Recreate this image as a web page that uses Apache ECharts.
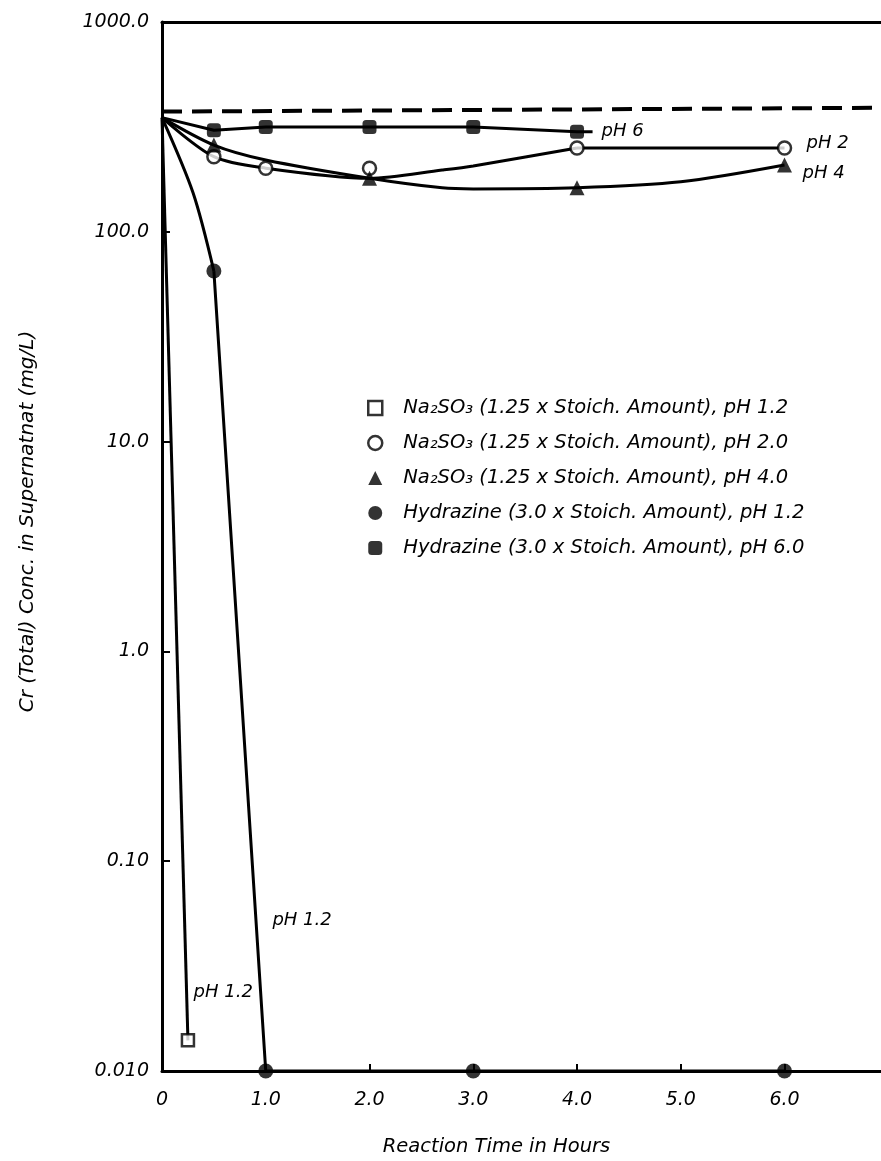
<!DOCTYPE html>
<html>
<head>
<meta charset="utf-8">
<script src="https://cdn.jsdelivr.net/npm/echarts@6/dist/echarts.min.js"></script>
<style>
  html, body { margin: 0; padding: 0; background: #fff; }
  #chart { width: 881px; height: 1161px; }
</style>
</head>
<body>
<div id="chart"></div>
<script>
// Axis tick labels
const xTickValues = [0, 1, 2, 3, 4, 5, 6];
const xTickLabels = ['0', '1.0', '2.0', '3.0', '4.0', '5.0', '6.0'];
const yTickLabels = ['0.010', '0.10', '1.0', '10.0', '100.0', '1000.0']; // 10^-2 .. 10^3

// Legend entries
const seriesNames = [
  'Na₂SO₃ (1.25 x Stoich. Amount), pH 1.2',
  'Na₂SO₃ (1.25 x Stoich. Amount), pH 2.0',
  'Na₂SO₃ (1.25 x Stoich. Amount), pH 4.0',
  'Hydrazine (3.0 x Stoich. Amount), pH 1.2',
  'Hydrazine (3.0 x Stoich. Amount), pH 6.0'
];

// Measured points [hours, mg/L]
const sulfitePh12 = [[0.25, 0.014]];
const sulfitePh20 = [[0.5, 228], [1, 201], [2, 201], [4, 251], [6, 251]];
const sulfitePh40 = [[0.5, 259], [2, 180], [4, 162], [6, 208]];
const hydrazinePh12 = [[0.5, 65], [1, 0.01], [3, 0.01], [6, 0.01]];
const hydrazinePh60 = [[0.5, 305], [1, 316], [2, 316], [3, 316], [4, 300]];

// Drawn trend curves [hours, mg/L]; "Bend" parts are smoothed, "Run" parts are straight
const curveSulfitePh12 = [[0, 350], [0.25, 0.014]];
const curveSulfitePh20Bend = [[0, 350], [0.5, 228], [1, 201], [2, 180], [2.7, 197], [3, 206], [4, 251]];
const curveSulfitePh20Run = [[4, 251], [6, 251]];
const curveSulfitePh40Bend = [[0, 350], [0.5, 259], [1, 220], [2, 180], [2.7, 162], [3, 160], [4, 162], [5, 173], [6, 208]];
const curveHydrazinePh12Bend = [[0, 350], [0.3, 153], [0.5, 65]];
const curveHydrazinePh12Run = [[0.5, 65], [1, 0.01], [6, 0.01]];
const curveHydrazinePh60 = [[0, 350], [0.5, 305], [1, 316], [3, 316], [4, 300], [4.15, 300]];

// Dashed reference level
const initialLevel = [[0, 374], [6.93, 390]];

// Free-standing curve notes, anchored in data coordinates
const curveNotes = [
  { text: 'pH 1.2', at: [1.35, 0.052] },
  { text: 'pH 1.2', at: [0.59, 0.0238] }
];

// Time axis runs off the right edge of the page, just short of 7 h
const X_MAX = 6.93;

const FONT = 'DejaVu Sans';
const INK = '#000';
const textBase = { fontFamily: FONT, fontStyle: 'italic', color: INK };

function curve(data, extra) {
  return Object.assign({
    type: 'line',
    data: data,
    symbol: 'none',
    lineStyle: { color: INK, width: 3 },
    silent: true,
    z: 2,
    clip: false
  }, extra || {});
}

function points(name, data, symbol, size, hollow) {
  return {
    type: 'scatter',
    name: name,
    data: data,
    symbol: symbol,
    symbolSize: size,
    itemStyle: hollow
      ? { color: '#fff', borderColor: INK, borderWidth: 2.5 }
      : { color: INK },
    z: 5,
    clip: false,
    silent: true
  };
}

function endNote(text, offset) {
  return Object.assign({ show: true, formatter: text, fontSize: 18, offset: offset }, textBase);
}

const chart = echarts.init(document.getElementById('chart'), null, { renderer: 'canvas' });

chart.setOption({
  animation: false,
  backgroundColor: '#fff',
  grid: {
    left: 162, top: 22, right: 0, bottom: 90,
    outerBoundsMode: 'none'
  },
  xAxis: [
    {
      type: 'value', min: 0, max: X_MAX,
      axisLine: { lineStyle: { color: INK, width: 3 } },
      axisTick: { inside: true, length: 7, customValues: xTickValues, lineStyle: { color: INK, width: 2 } },
      splitLine: { show: false },
      axisLabel: Object.assign({
        margin: 20, fontSize: 19,
        customValues: xTickValues,
        formatter: v => xTickLabels[xTickValues.indexOf(v)] || ''
      }, textBase),
      name: 'Reaction Time in Hours',
      nameLocation: 'middle', nameGap: 66,
      nameTextStyle: Object.assign({ fontSize: 19.5, padding: [0, 50, 0, 0] }, textBase)
    },
    {
      // top frame line
      type: 'value', position: 'top', min: 0, max: X_MAX,
      axisLine: { lineStyle: { color: INK, width: 3 } },
      axisTick: { show: false },
      axisLabel: { show: false },
      splitLine: { show: false }
    }
  ],
  yAxis: {
    type: 'log', logBase: 10, min: 0.01, max: 1000, splitNumber: 5,
    axisLine: { lineStyle: { color: INK, width: 3 } },
    axisTick: { inside: true, length: 8, lineStyle: { color: INK, width: 2 } },
    splitLine: { show: false },
    axisLabel: Object.assign({
      margin: 13, fontSize: 19,
      formatter: v => yTickLabels[Math.round(Math.log10(v)) + 2] || ''
    }, textBase),
    name: 'Cr (Total) Conc. in Supernatnat (mg/L)',
    nameLocation: 'middle', nameGap: 124,
    nameTextStyle: Object.assign({ fontSize: 20, padding: [0, 0, 0, 50] }, textBase)
  },
  legend: {
    orient: 'vertical',
    left: 362, top: 392,
    itemWidth: 14, itemHeight: 14, itemGap: 13,
    selectedMode: false,
    textStyle: Object.assign({ fontSize: 19.5, lineHeight: 22, padding: [0, 0, 0, 16] }, textBase),
    data: [
      { name: seriesNames[0], icon: 'rect', itemStyle: { color: '#fff', borderColor: INK, borderWidth: 2.5 } },
      { name: seriesNames[1], icon: 'circle', itemStyle: { color: '#fff', borderColor: INK, borderWidth: 2.5 } },
      { name: seriesNames[2], icon: 'triangle', itemStyle: { color: INK } },
      { name: seriesNames[3], icon: 'circle', itemStyle: { color: INK } },
      { name: seriesNames[4], icon: 'roundRect', itemStyle: { color: INK } }
    ]
  },
  series: [
    // dashed reference level
    curve(initialLevel, { lineStyle: { color: INK, width: 4, type: [20, 10] } }),

    // trend curves
    curve(curveSulfitePh12),
    curve(curveSulfitePh20Bend, { smooth: 0.3 }),
    curve(curveSulfitePh20Run, { endLabel: endNote('pH 2', [14, -5]) }),
    curve(curveSulfitePh40Bend, { smooth: 0.3, endLabel: endNote('pH 4', [10, 8]) }),
    curve(curveHydrazinePh12Bend, { smooth: 0.3 }),
    curve(curveHydrazinePh12Run, {
      markPoint: {
        symbol: 'circle', symbolSize: 0, silent: true,
        label: Object.assign({ show: true, position: 'inside', fontSize: 18, formatter: p => p.name }, textBase),
        data: curveNotes.map(n => ({ name: n.text, coord: n.at }))
      }
    }),
    curve(curveHydrazinePh60, { endLabel: endNote('pH 6', [1, 0]) }),

    // measured points
    points(seriesNames[0], sulfitePh12, 'rect', 12, true),
    points(seriesNames[1], sulfitePh20, 'circle', 13, true),
    points(seriesNames[2], sulfitePh40, 'triangle', 15, false),
    points(seriesNames[3], hydrazinePh12, 'circle', 15, false),
    points(seriesNames[4], hydrazinePh60, 'roundRect', 14, false)
  ]
});
</script>
</body>
</html>
